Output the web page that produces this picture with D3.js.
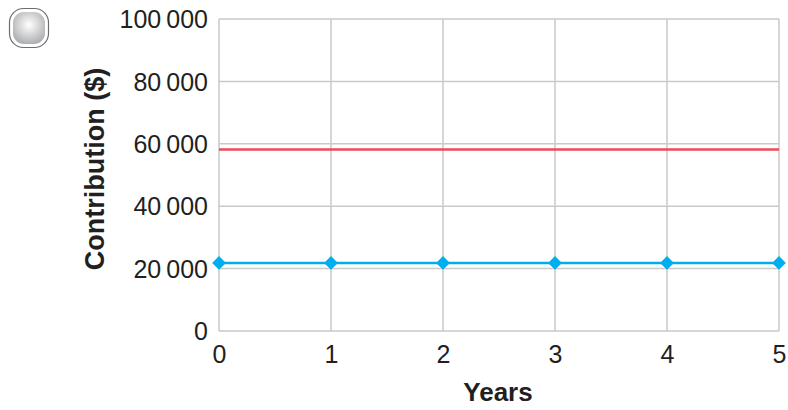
<!DOCTYPE html>
<html>
<head>
<meta charset="utf-8">
<script src="https://cdn.jsdelivr.net/npm/d3@7"></script>
<style>
  body { margin: 0; background: #fff; }
  text { font-family: "Liberation Sans", Arial, sans-serif; fill: #231f20; }
</style>
</head>
<body>
<div id="chart"></div>
<script>
var years = [0, 1, 2, 3, 4, 5];
var blueValues = [21800, 21800, 21800, 21800, 21800, 21800];
var redValues = [58200, 58200, 58200, 58200, 58200, 58200];
var yTicks = [0, 20000, 40000, 60000, 80000, 100000];

var svg = d3.select("#chart").append("svg").attr("width", 788).attr("height", 410),
    margin = {top: 19, right: 9, bottom: 79, left: 219},
    width = 788 - margin.left - margin.right,
    height = 410 - margin.top - margin.bottom;

// the round button in the corner
var grad = svg.append("defs").append("radialGradient").attr("id", "btn")
    .attr("cx", "50%").attr("cy", "40%").attr("r", "65%");
grad.append("stop").attr("offset", "0%").attr("stop-color", "#ffffff");
grad.append("stop").attr("offset", "100%").attr("stop-color", "#a9aaac");
svg.append("rect").attr("x", 9.5).attr("y", 8.5).attr("width", 39).attr("height", 39)
    .attr("rx", 14).attr("fill", "#fff").attr("stroke", "#6d6e70").attr("stroke-width", 1.2);
svg.append("rect").attr("x", 13).attr("y", 12).attr("width", 32).attr("height", 32)
    .attr("rx", 11).attr("fill", "url(#btn)");

var g = svg.append("g").attr("transform", "translate(" + margin.left + "," + margin.top + ")");

var x = d3.scaleLinear().domain([0, 5]).range([0, width]);
var y = d3.scaleLinear().domain([0, 100000]).range([height, 0]);

function fmt(d) { return d3.format(",")(d).replace(/,/g, "\u2009"); }

// grid
g.append("g").selectAll("line").data(yTicks).enter().append("line")
    .attr("x1", 0).attr("x2", width)
    .attr("y1", function(d) { return y(d); }).attr("y2", function(d) { return y(d); })
    .attr("stroke", "#c9c9ca").attr("stroke-width", 1.5);
g.append("g").selectAll("line").data(years).enter().append("line")
    .attr("x1", function(d) { return x(d); }).attr("x2", function(d) { return x(d); })
    .attr("y1", 0).attr("y2", height)
    .attr("stroke", "#c9c9ca").attr("stroke-width", 1.5);

// axes (labels only)
var yAxis = g.append("g").call(d3.axisLeft(y).tickValues(yTicks).tickFormat(fmt).tickSize(0).tickPadding(11));
yAxis.select(".domain").remove();
yAxis.selectAll("text").attr("font-size", 25).attr("font-family", "Liberation Sans, Arial, sans-serif")
    .attr("fill", "#231f20").attr("dy", "0.35em");

var xAxis = g.append("g").attr("transform", "translate(0," + height + ")")
    .call(d3.axisBottom(x).tickValues(years).tickFormat(d3.format("d")).tickSize(0).tickPadding(14));
xAxis.select(".domain").remove();
xAxis.selectAll("text").attr("font-size", 25).attr("font-family", "Liberation Sans, Arial, sans-serif")
    .attr("fill", "#231f20");

// lines
var line = d3.line().x(function(d, i) { return x(years[i]); }).y(function(d) { return y(d); });

g.append("path").datum(redValues).attr("d", line)
    .attr("fill", "none").attr("stroke", "#ef4a57").attr("stroke-width", 2.5);

g.append("path").datum(blueValues).attr("d", line)
    .attr("fill", "none").attr("stroke", "#00aeef").attr("stroke-width", 2.5);

g.selectAll(".pt").data(blueValues).enter().append("path")
    .attr("class", "pt")
    .attr("transform", function(d, i) { return "translate(" + x(years[i]) + "," + y(d) + ")"; })
    .attr("d", d3.symbol().type(d3.symbolDiamond2).size(120))
    .attr("fill", "#00aeef");

// titles
svg.append("text").attr("x", 498).attr("y", 401)
    .attr("text-anchor", "middle").attr("font-size", 26).attr("font-weight", "bold").text("Years");
svg.append("text").attr("transform", "translate(104,169) rotate(-90)")
    .attr("text-anchor", "middle").attr("font-size", 27).attr("font-weight", "bold").text("Contribution ($)");
</script>
</body>
</html>
